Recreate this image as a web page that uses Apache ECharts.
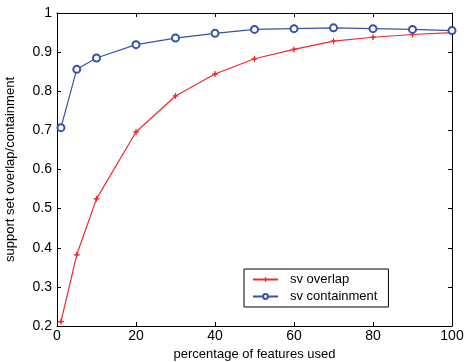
<!DOCTYPE html>
<html>
<head>
<meta charset="utf-8">
<script src="https://cdn.jsdelivr.net/npm/echarts@6/dist/echarts.min.js"></script>
<style>
html,body{margin:0;padding:0;background:#fff;}
#chart{width:465px;height:362px;}
</style>
</head>
<body>
<div id="chart"></div>
<script>
// percentage of features used
var xValues = [1, 5, 10, 20, 30, 40, 50, 60, 70, 80, 90, 100];
// sv overlap (red)
var overlapValues = [0.211, 0.382, 0.525, 0.696, 0.788, 0.844, 0.883, 0.907, 0.928, 0.938, 0.945, 0.950];
// sv containment (blue)
var containValues = [0.707, 0.856, 0.885, 0.919, 0.936, 0.948, 0.958, 0.960, 0.962, 0.960, 0.958, 0.955];

function pairs(xs, ys){
	var out = [];
	for (var i = 0; i < xs.length; i++) {
		out.push([xs[i], ys[i]]);
	}
	return out;
}

var font = 'Liberation Sans, Arial, Helvetica, sans-serif';
// small plus marker with a thicker centre
var plusPath = 'path://M4,0 L6,0 L6,3 L7,3 L7,4 L10,4 L10,6 L7,6 L7,7 L6,7 L6,10 L4,10 L4,7 L3,7 L3,6 L0,6 L0,4 L3,4 L3,3 L4,3 Z';

var axisCommon = {
	type: 'value',
	axisLine: { show: true, onZero: false, lineStyle: { color: '#000', width: 1 } },
	axisTick: { show: true, inside: true, length: 4, lineStyle: { color: '#000' } },
	splitLine: { show: false }
};

var myChart = echarts.init(document.getElementById('chart'));

myChart.setOption({
	animation: false,
	backgroundColor: '#fff',
	grid: { left: 57, right: 13, top: 13, bottom: 36, outerBoundsMode: 'none', containLabel: false },
	xAxis: [
		Object.assign({}, axisCommon, {
			min: 0, max: 100, interval: 20,
			position: 'bottom',
			name: 'percentage of features used',
			nameLocation: 'middle',
			nameGap: 19,
			nameTextStyle: { fontFamily: font, fontSize: 13, color: '#000' },
			axisLabel: { fontFamily: font, fontSize: 14, color: '#000', margin: 3 }
		}),
		Object.assign({}, axisCommon, {
			min: 0, max: 100, interval: 20,
			position: 'top',
			axisLabel: { show: false }
		})
	],
	yAxis: [
		Object.assign({}, axisCommon, {
			min: 0.2, max: 1, interval: 0.1,
			position: 'left',
			name: 'support set overlap/containment',
			nameLocation: 'middle',
			nameGap: 40,
			nameTextStyle: { fontFamily: font, fontSize: 13, color: '#000' },
			axisLabel: { fontFamily: font, fontSize: 14, color: '#000', margin: 5,
				formatter: function (v) { return v === 1 ? '1' : v.toFixed(1); } }
		}),
		Object.assign({}, axisCommon, {
			min: 0.2, max: 1, interval: 0.1,
			position: 'right',
			axisLabel: { show: false }
		})
	],
	legend: {
		orient: 'vertical',
		left: 244,
		top: 269,
		padding: [4, 11, 4, 8],
		itemGap: 4,
		itemWidth: 25,
		itemHeight: 6,
		backgroundColor: '#fff',
		borderColor: '#000',
		borderWidth: 1,
		borderRadius: 0,
		textStyle: { fontFamily: font, fontSize: 13, color: '#000', padding: [0, 0, 0, 7] },
		data: ['sv overlap', 'sv containment']
	},
	series: [
		{
			name: 'sv overlap',
			type: 'line',
			data: pairs(xValues, overlapValues),
			symbol: plusPath,
			symbolSize: 6,
			itemStyle: { color: '#f2282c' },
			lineStyle: { color: '#f2282c', width: 1.2 }
		},
		{
			name: 'sv containment',
			type: 'line',
			data: pairs(xValues, containValues),
			symbol: 'emptyCircle',
			symbolSize: 7,
			itemStyle: { color: '#3553a8', borderWidth: 1.2 },
			lineStyle: { color: '#3553a8', width: 1.2 }
		}
	]
});
</script>
</body>
</html>
